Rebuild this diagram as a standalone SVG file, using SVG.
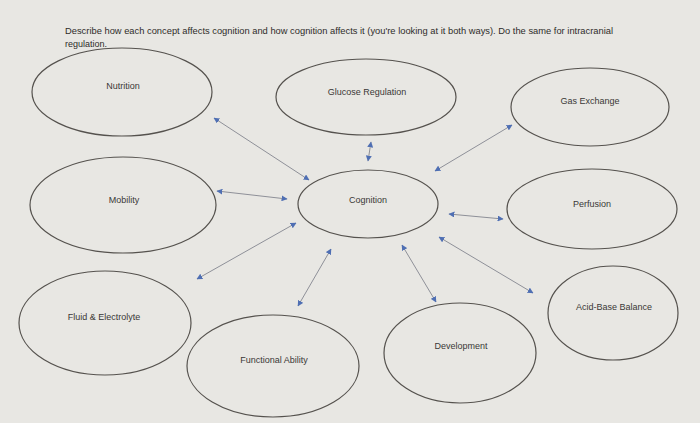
<svg xmlns="http://www.w3.org/2000/svg" width="700" height="423" viewBox="0 0 700 423">
<defs>
<style>
.bg{fill:#e8e7e3}
.node ellipse{fill:none;stroke:#55524e;stroke-width:1.2}
.node text{font-family:"Liberation Sans",Arial,sans-serif;font-size:9px;fill:#3a3836;text-anchor:middle;dominant-baseline:middle}
.title{font-family:"Liberation Sans",Arial,sans-serif;font-size:9px;fill:#2e2c2a}
#connectors line{stroke:#8e9098;stroke-width:1;marker-start:url(#ah);marker-end:url(#ah)}
</style>
<marker id="ah" viewBox="0 0 10 10" refX="9" refY="5" markerWidth="6" markerHeight="6" markerUnits="userSpaceOnUse" orient="auto-start-reverse">
<path d="M0,0 L10,5 L0,10 z" fill="#4f6fb3"/>
</marker>
</defs>
<rect class="bg" x="0" y="0" width="700" height="423"/>
<text class="title" x="65" y="34" textLength="548" lengthAdjust="spacingAndGlyphs">Describe how each concept affects cognition and how cognition affects it (you're looking at it both ways). Do the same for intracranial</text>
<text class="title" x="65" y="47">regulation.</text>
<g id="connectors">
<line x1="214" y1="118" x2="309" y2="180"/>
<line x1="371" y1="142" x2="368" y2="161"/>
<line x1="512" y1="125" x2="435" y2="171"/>
<line x1="217" y1="191" x2="287" y2="199"/>
<line x1="449" y1="214" x2="503" y2="219"/>
<line x1="197" y1="279" x2="296" y2="223"/>
<line x1="298" y1="306" x2="331" y2="249"/>
<line x1="402" y1="245" x2="436" y2="302"/>
<line x1="439" y1="237" x2="533" y2="293"/>
</g>
<g id="nutrition" class="node"><ellipse cx="122" cy="92" rx="90" ry="44"/><text x="123" y="87">Nutrition</text></g>
<g id="glucose" class="node"><ellipse cx="366" cy="97" rx="90" ry="38"/><text x="367" y="93">Glucose Regulation</text></g>
<g id="gas" class="node"><ellipse cx="590" cy="107" rx="79" ry="39"/><text x="590" y="102">Gas Exchange</text></g>
<g id="mobility" class="node"><ellipse cx="123" cy="205" rx="93" ry="48"/><text x="124" y="201">Mobility</text></g>
<g id="cognition" class="node"><ellipse cx="368" cy="204" rx="70" ry="34"/><text x="368" y="201">Cognition</text></g>
<g id="perfusion" class="node"><ellipse cx="592" cy="209" rx="85" ry="40"/><text x="592" y="205">Perfusion</text></g>
<g id="acidbase" class="node"><ellipse cx="613" cy="313" rx="65" ry="47"/><text x="614" y="308">Acid-Base Balance</text></g>
<g id="fluid" class="node"><ellipse cx="105" cy="323" rx="86" ry="52"/><text x="104" y="318">Fluid &amp; Electrolyte</text></g>
<g id="functional" class="node"><ellipse cx="273" cy="366" rx="86" ry="51"/><text x="274" y="361">Functional Ability</text></g>
<g id="development" class="node"><ellipse cx="460" cy="353" rx="76" ry="50"/><text x="461" y="347">Development</text></g>
</svg>
